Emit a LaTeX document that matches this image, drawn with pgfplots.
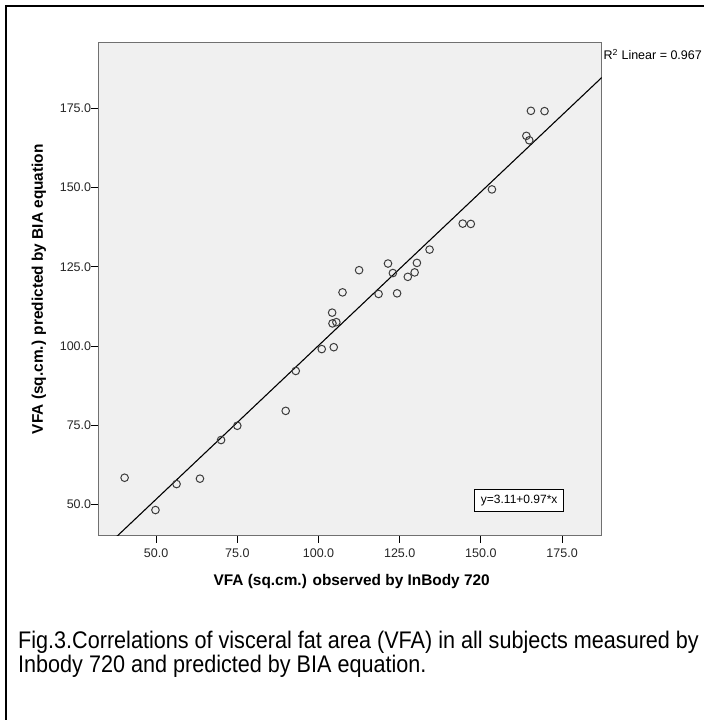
\documentclass[border=0pt]{standalone}
\usepackage{fontspec}
\setmainfont{Liberation Sans}
\newfontfamily\capfont[FakeStretch=0.9]{Liberation Sans}
\usepackage{pgfplots}
\pgfplotsset{compat=1.18}
\definecolor{plotbg}{HTML}{F0F0F0}
\definecolor{framegray}{HTML}{707070}
\definecolor{markgray}{HTML}{3C3C3C}

\begin{document}
\begin{tikzpicture}
\path[use as bounding box] (0,0) rectangle (704bp,-720bp);
\clip (0,0) rectangle (704bp,-720bp);
\draw[line width=2.7bp] (6bp,-740bp) -- (6bp,-6bp) -- (740bp,-6bp);
\begin{axis}[
  at={(98.3bp,-42.7bp)}, anchor=north west,
  scale only axis, width=503.4bp, height=493bp,
  xmin=32.2, xmax=187.2, ymin=40.1, ymax=195.7,
  axis background/.style={fill=plotbg},
  axis line style={framegray, line width=1bp},
  xtick={50,75,...,175}, ytick={50,75,...,175},
  xtick pos=bottom, ytick pos=left,
  tick align=outside, major tick length=7bp,
  tick style={black, line width=0.8bp},
  /pgf/number format/assume math mode=true,
  /pgf/number format/fixed, /pgf/number format/fixed zerofill,
  /pgf/number format/precision=1,
  ticklabel style={font=\fontsize{12.5bp}{14bp}\selectfont, text=black!85},
  yticklabel style={inner sep=0pt, anchor=east},
  xticklabel style={inner sep=0pt, anchor=north, yshift=-5.5bp},
  xlabel={VFA (sq.cm.) observed by InBody 720},
  ylabel={VFA (sq.cm.) predicted by BIA equation},
  label style={font=\bfseries\fontsize{15.4bp}{18bp}\selectfont},
  xlabel style={at={(axis description cs:0.5,0)}, anchor=center, xshift=1.7bp, yshift=-45.8bp},
  ylabel style={at={(axis description cs:0,0.5)}, anchor=center, yshift=59.3bp},
]
% fit line y = 3.11 + 0.97x
\addplot[black, line width=1.1bp] coordinates {(30,32.21) (190,187.41)};
\addplot[only marks, mark=o, mark size=3.8bp, markgray, line width=1bp] coordinates {
  (165.4,174.2) (169.6,174.1) (164.0,166.3) (164.9,164.9) (153.4,149.4)
  (144.4,138.6) (146.9,138.5) (134.2,130.4) (112.5,123.9) (121.4,126.0)
  (122.9,123.0) (130.3,126.2) (129.6,123.2) (127.5,121.8) (107.4,116.9)
  (118.5,116.4) (124.2,116.6) (104.2,110.5) (104.3,107.1) (105.5,107.5)
  (104.7,99.6) (101.0,99.0) (93.0,92.1) (89.9,79.5) (75.0,74.8)
  (70.0,70.3) (56.3,56.4) (63.5,58.1) (40.3,58.4) (49.8,48.2)
};
\node[draw=black, fill=white, line width=0.8bp, inner sep=0pt,
  minimum width=89bp, minimum height=22bp,
  font=\fontsize{12bp}{14bp}\selectfont] at (axis cs:161.8,51.3) {y=3.11+0.97*x};
\end{axis}
\node[anchor=base west, inner sep=0pt, font=\fontsize{12.5bp}{14bp}\selectfont]
  at (603.5bp,-59.5bp) {R\textsuperscript{2} Linear = 0.967};
\node[anchor=base west, inner sep=0pt, font=\capfont\fontsize{24bp}{26bp}\selectfont]
  at (18bp,-648bp) {Fig.3.Correlations of visceral fat area (VFA) in all subjects measured by};
\node[anchor=base west, inner sep=0pt, font=\capfont\fontsize{24bp}{26bp}\selectfont]
  at (18bp,-672.5bp) {Inbody 720 and predicted by BIA equation.};
\end{tikzpicture}
\end{document}
